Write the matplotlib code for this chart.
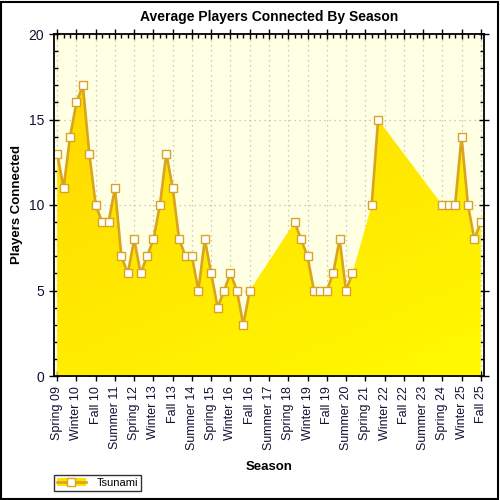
import matplotlib
matplotlib.use('Agg')
import matplotlib.pyplot as plt
from matplotlib.patches import Patch, Rectangle
from matplotlib.lines import Line2D
from matplotlib.ticker import MultipleLocator, FixedLocator
import numpy as np

plt.rcParams['font.family'] = ['Liberation Sans', 'DejaVu Sans']

seasons = ['Spring 09', 'Summer 09', 'Fall 09', 'Winter 10', 'Spring 10', 'Summer 10', 'Fall 10',
           'Winter 11', 'Spring 11', 'Summer 11', 'Fall 11', 'Winter 12', 'Spring 12', 'Summer 12',
           'Fall 12', 'Winter 13', 'Spring 13', 'Summer 13', 'Fall 13', 'Winter 14', 'Spring 14',
           'Summer 14', 'Fall 14', 'Winter 15', 'Spring 15', 'Summer 15', 'Fall 15', 'Winter 16',
           'Spring 16', 'Summer 16', 'Fall 16', 'Winter 17', 'Spring 17', 'Summer 17', 'Fall 17',
           'Winter 18', 'Spring 18', 'Summer 18', 'Fall 18', 'Winter 19', 'Spring 19', 'Summer 19',
           'Fall 19', 'Winter 20', 'Spring 20', 'Summer 20', 'Fall 20', 'Winter 21', 'Spring 21',
           'Summer 21', 'Fall 21', 'Winter 22', 'Spring 22', 'Summer 22', 'Fall 22', 'Winter 23',
           'Spring 23', 'Summer 23', 'Fall 23', 'Winter 24', 'Spring 24', 'Summer 24', 'Fall 24',
           'Winter 25', 'Spring 25', 'Summer 25', 'Fall 25']

nan = np.nan
players = [13, 11, 14, 16, 17, 13, 10, 9, 9, 11, 7, 6, 8, 6, 7, 8, 10, 13, 11, 8, 7, 7, 5, 8, 6,
           4, 5, 6, 5, 3, 5,
           nan, nan, nan, nan, nan, nan,
           9, 8, 7, 5, 5, 5, 6, 8, 5, 6,
           nan, nan,
           10, 15,
           nan, nan, nan, nan, nan, nan, nan, nan, nan,
           10, 10, 10, 14, 10, 8, 9]

x = np.arange(len(seasons))
y = np.array(players, dtype=float)
ok = ~np.isnan(y)

fig = plt.figure(figsize=(5, 5), dpi=100)
fig.patch.set_facecolor('white')
ax = fig.add_axes([0.108, 0.248, 0.86, 0.684])
ax.set_facecolor('#FFFFE4')
ax.set_xlim(-0.5, len(seasons) - 0.5)
ax.set_ylim(0, 20)

# area with gold -> yellow gradient (top-left to bottom-right)
poly = ax.fill_between(x[ok], y[ok], 0, color='none', lw=0)
gx, gy = np.meshgrid(np.linspace(0, 1, 200), np.linspace(0, 1, 200))
t = 0.65 * gy + 0.35 * gx
c0 = np.array([255, 212, 0]) / 255
c1 = np.array([255, 250, 0]) / 255
img = c0[None, None, :] * (1 - t[..., None]) + c1[None, None, :] * t[..., None]
im = ax.imshow(img, extent=[-0.5, len(seasons) - 0.5, 0, 20], origin='upper',
               aspect='auto', zorder=1, interpolation='bilinear')
path = poly.get_paths()[0]
im.set_clip_path(path, transform=ax.transData)

ax.plot(x, y, color='#D9A520', lw=1.9, zorder=3,
        marker='s', markersize=5.8, markerfacecolor='white', markeredgecolor='#D9A520',
        markeredgewidth=1.0)

# grid
ax.xaxis.set_major_locator(FixedLocator(x[::3]))
ax.xaxis.set_minor_locator(FixedLocator(x))
ax.set_xticklabels(seasons[::3], rotation=90, fontsize=9, color='#111133')
ax.yaxis.set_major_locator(MultipleLocator(5))
ax.yaxis.set_minor_locator(MultipleLocator(1))
ax.tick_params(axis='y', labelsize=10, labelcolor='#111133')
ax.grid(True, which='major', color='#BBBBBB', linestyle=(0, (1, 3)), lw=0.9, zorder=0)
ax.set_axisbelow(True)
ax.tick_params(which='major', direction='inout', length=7, width=1, top=True, right=True)
ax.tick_params(which='minor', direction='in', length=3, width=1, top=True, right=True)
for s in ax.spines.values():
    s.set_linewidth(1.3)
    s.set_zorder(5)

ax.set_title('Average Players Connected By Season', fontsize=10, fontweight='bold', pad=9)
ax.set_xlabel('Season', fontsize=9.5, fontweight='bold', labelpad=8)
ax.set_ylabel('Players Connected', fontsize=9.5, fontweight='bold', labelpad=4)

# legend
h_patch = Patch(facecolor='#FFE000', edgecolor='none')
h_line = Line2D([], [], color='#D9A520', lw=1.9, marker='s', markersize=5.8,
                markerfacecolor='white', markeredgecolor='#D9A520')
leg = fig.legend([(h_patch, h_line)], ['Tsunami'], loc='lower left',
                 bbox_to_anchor=(0.104, 0.014), fontsize=8, frameon=True, fancybox=False,
                 handlelength=2.6, borderpad=0.25, handletextpad=1.0, borderaxespad=0.2)
leg.get_frame().set_edgecolor('black')
leg.get_frame().set_linewidth(1.0)

# outer border
fig.patches.append(Rectangle((0.002, 0.002), 0.994, 0.994, transform=fig.transFigure,
                             fill=False, edgecolor='black', lw=1.5))

fig.savefig('out.png', dpi=100)
